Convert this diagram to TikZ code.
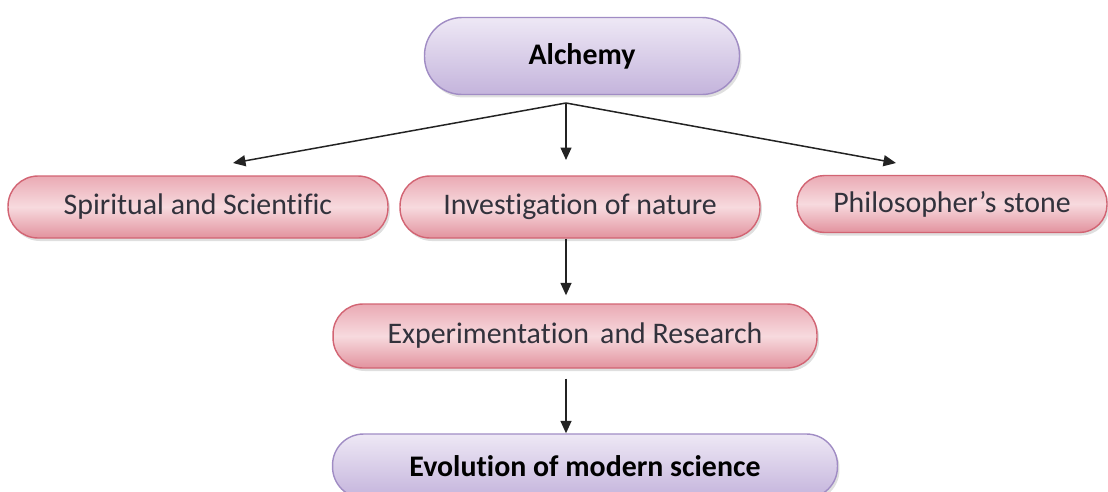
\documentclass[tikz,border=0pt]{standalone}
\usepackage{fontspec}
\setmainfont{Carlito}[Ligatures={TeX,NoCommon}]
\usetikzlibrary{arrows.meta,shadows}

\definecolor{pinkline}{RGB}{210,100,115}
\definecolor{pinktop}{RGB}{234,170,180}
\definecolor{pinkmid}{RGB}{247,218,222}
\definecolor{pinkbot}{RGB}{226,146,158}
\definecolor{lilacline}{RGB}{160,140,196}
\definecolor{lilactop}{RGB}{238,232,245}
\definecolor{lilacbot}{RGB}{196,180,220}
\definecolor{textgray}{RGB}{50,50,60}
\definecolor{arrowgray}{RGB}{35,35,35}

\tikzset{
	boxtext/.style={font=\fontsize{17}{20}\selectfont, align=center},
	pinkbox/.style={boxtext, draw=pinkline, line width=0.8pt, text=textgray,
		minimum height=1.24cm, rounded corners=0.6cm,
		top color=pinktop, bottom color=pinkbot, middle color=pinkmid,
		drop shadow={opacity=0.25, shadow xshift=0.04cm, shadow yshift=-0.06cm}},
	lilacbox/.style={boxtext, draw=lilacline, line width=0.8pt, text=black,
		top color=lilactop, bottom color=lilacbot,
		drop shadow={opacity=0.25, shadow xshift=0.04cm, shadow yshift=-0.06cm}},
	arr/.style={draw=arrowgray, line width=0.85pt, -{Triangle[length=0.25cm,width=0.22cm]}}
}

\begin{document}
\begin{tikzpicture}[x=0.02cm,y=-0.02cm]
	\useasboundingbox (0,0) rectangle (1108,491);

	\node[lilacbox, minimum width=6.3cm, minimum height=1.54cm, rounded corners=0.75cm] (alchemy) at (582,56) {\textbf{Alchemy}};

	\node[pinkbox, minimum width=7.6cm] (spirit) at (198,207) {Spiritual and Scientific};
	\node[pinkbox, minimum width=7.2cm] (nature) at (580,207) {Investigation of nature};
	\node[pinkbox, minimum width=6.2cm, minimum height=1.14cm, rounded corners=0.55cm] (stone) at (952,204) {Philosopher's stone};

	\node[pinkbox, minimum width=9.68cm, minimum height=1.28cm] (exper) at (575,336) {Experimentation\hspace{0.15em} and Research};
	\node[lilacbox, minimum width=10.1cm, minimum height=1.28cm, rounded corners=0.62cm] (evo) at (585,466) {\textbf{Evolution of modern science}};

	\coordinate (split) at (566,103);
	\coordinate (spirit-in) at (233,163);
	\coordinate (nature-in) at (566,160);
	\coordinate (stone-in) at (896,163);

	\foreach \tip in {spirit-in,nature-in,stone-in}
	{
		\draw[arr] (split) -- (\tip);
	}
	\draw[arr, shorten >=0.16cm] (split |- nature.south) -- (split |- exper.north);
	\draw[arr, shorten <=0.2cm] (split |- exper.south) -- (split |- evo.north);
\end{tikzpicture}
\end{document}
